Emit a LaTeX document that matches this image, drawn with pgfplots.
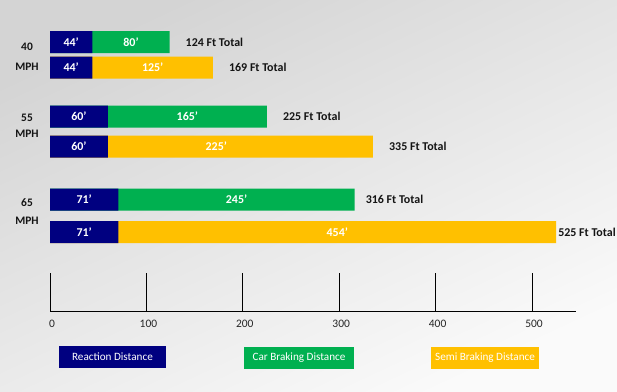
\documentclass[border=0pt]{standalone}
\usepackage{pgfplots}
\pgfplotsset{compat=1.18}
\usepackage{pgfplotstable}
\usepackage{fontspec}
\setmainfont{Carlito}
\usetikzlibrary{backgrounds}
\definecolor{reactnavy}{RGB}{0,0,128}
\definecolor{cargreen}{RGB}{0,176,80}
\definecolor{semiyellow}{RGB}{255,192,0}
\definecolor{txt}{RGB}{20,20,20}

% y = vertical position of each bar (311 - pixel row)
\pgfplotstableread{
y     react brake total gap
269   44    80    124   16
194.5 60    165   225   16
111.5 71    245   316   11
}\cartable
\pgfplotstableread{
y     react brake total gap
243.5 44    125   169   16
164.5 60    225   335   16
79    71    454   525   2
}\semitable

\begin{document}
\begin{tikzpicture}
\begin{axis}[
  x=0.964bp, y=1bp,
  xmin=0, xmax=546, ymin=0, ymax=291,
  clip=false,
  axis lines*=left,
  y axis line style={draw=none},
  x axis line style={black, line width=0.9pt, -},
  xtick={0,100,200,300,400,500},
  xtick style={black, line width=0.9pt},
  major tick length=38bp,
  tick align=inside,
  ytick={264,244,193,177,108,90},
  yticklabels={40,MPH,55,MPH,65,MPH},
  ytick style={draw=none},
  yticklabel style={anchor=center, xshift=-23bp, font=\fontsize{11.5}{13}\selectfont\bfseries, text=txt},
  xticklabel style={font=\fontsize{11.5}{13}\selectfont, text=black!85, xshift=2bp, yshift=-6bp},
  /pgf/number format/assume math mode=true,
]
\coordinate (bgTL) at (axis cs:-51.87,311);
\coordinate (bgBR) at (axis cs:588.17,-80);

% full bars (reaction + braking) in braking colour
\addplot[xbar, bar shift=0pt, bar width=22bp, fill=cargreen, draw=none] table[x=total, y=y]{\cartable};
\addplot[xbar, bar shift=0pt, bar width=22bp, fill=semiyellow, draw=none] table[x=total, y=y]{\semitable};
% reaction part on top
\addplot[xbar, bar shift=0pt, bar width=22bp, fill=reactnavy, draw=none] table[x=react, y=y]{\cartable};
\addplot[xbar, bar shift=0pt, bar width=22bp, fill=reactnavy, draw=none] table[x=react, y=y]{\semitable};

% segment labels
\pgfplotsset{seglab/.style={draw=none, mark=none, point meta=explicit,
  nodes near coords={\pgfmathprintnumber{\pgfplotspointmeta}’},
  nodes near coords style={anchor=center, text=white, font=\fontsize{12}{14}\selectfont\bfseries}}}
\addplot[seglab] table[x expr=\thisrow{react}/2, y=y, meta=react]{\cartable};
\addplot[seglab] table[x expr=\thisrow{react}/2, y=y, meta=react]{\semitable};
\addplot[seglab] table[x expr=\thisrow{react}+\thisrow{brake}/2, y=y, meta=brake]{\cartable};
\addplot[seglab] table[x expr=\thisrow{react}+\thisrow{brake}/2, y=y, meta=brake]{\semitable};

% totals
\pgfplotsset{totlab/.style={draw=none, mark=none, point meta=x,
  visualization depends on={\thisrow{gap} \as \gap},
  nodes near coords={\pgfmathprintnumber{\pgfplotspointmeta} Ft Total},
  nodes near coords style={anchor=west, inner sep=0pt, xshift=\gap bp, text=txt, font=\fontsize{12}{14}\selectfont\bfseries}}}
\addplot[totlab] table[x=total, y=y]{\cartable};
\addplot[totlab] table[x=total, y=y]{\semitable};

% legend boxes
\node[fill=reactnavy, text=white, minimum width=107bp, minimum height=22bp, inner sep=0pt, font=\fontsize{11.2}{13}\selectfont] at (axis cs:64.8,-46) {Reaction Distance};
\node[fill=cargreen, text=white, minimum width=110bp, minimum height=22bp, inner sep=0pt, font=\fontsize{11.2}{13}\selectfont] at (axis cs:258.3,-47) {Car Braking Distance};
\node[fill=semiyellow, text=white, minimum width=108bp, minimum height=22bp, inner sep=0pt, font=\fontsize{11.2}{13}\selectfont] at (axis cs:451.3,-47) {Semi Braking Distance};
\end{axis}
\begin{scope}[on background layer]
\shade[top color={rgb,255:red,212;green,212;blue,212}, bottom color={rgb,255:red,250;green,250;blue,250}, shading angle=25] (bgTL) rectangle (bgBR);
\end{scope}
\pgfresetboundingbox
\path[use as bounding box] (bgTL) rectangle (bgBR);
\end{tikzpicture}
\end{document}
